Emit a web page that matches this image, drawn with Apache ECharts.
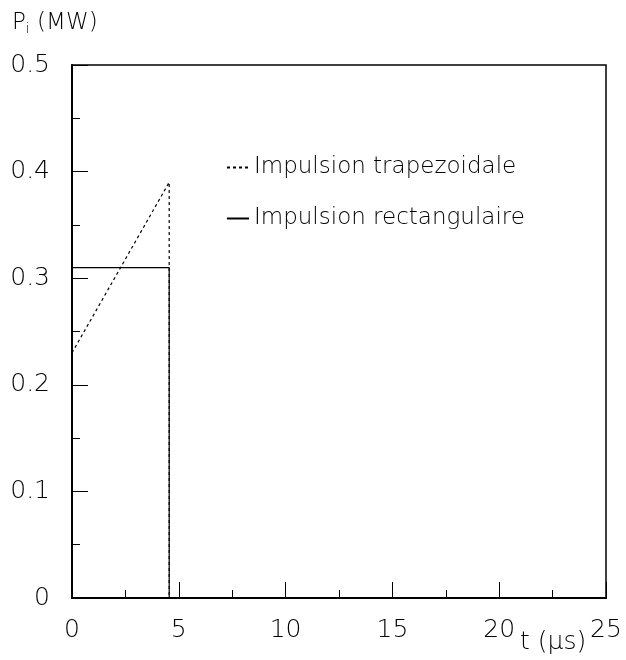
<!DOCTYPE html>
<html>
<head>
<meta charset="utf-8">
<script src="https://cdn.jsdelivr.net/npm/echarts@6/dist/echarts.min.js"></script>
<style>
  html, body { margin: 0; padding: 0; background: #fff; }
  #chart { width: 626px; height: 660px; }
</style>
</head>
<body>
<div id="chart"></div>
<script>
// puissance incidente vs temps
var seriesNames = ['Impulsion trapezoidale', 'Impulsion rectangulaire'];
var tTrap = [0, 4.55, 4.55];
var pTrap = [0.23, 0.39, 0];
var tRect = [0, 0, 4.55, 4.55];
var pRect = [0, 0.31, 0.31, 0];

var fontFam = '"DejaVu Sans", sans-serif';

function pairs(xs, ys) {
    var out = [];
    for (var i = 0; i < xs.length; i++) {
        out.push([xs[i], ys[i]]);
    }
    return out;
}

var chart = echarts.init(document.getElementById('chart'));

var option = {
    backgroundColor: '#fff',
    animation: false,
    grid: {
        left: 72,
        right: 20,
        top: 65,
        bottom: 62,
        show: true,
        borderColor: '#000',
        borderWidth: 1.5
    },
    legend: {
        orient: 'vertical',
        left: 221,
        top: 151,
        itemWidth: 22,
        itemHeight: 10,
        itemGap: 28,
        data: seriesNames,
        itemStyle: { color: 'transparent', borderWidth: 0 },
        textStyle: {
            fontFamily: fontFam,
            fontWeight: 200,
            fontSize: 23,
            color: '#000'
        }
    },
    xAxis: {
        type: 'value',
        min: 0,
        max: 25,
        interval: 5,
        axisLine: { lineStyle: { color: '#000', width: 2 } },
        axisTick: { inside: true, length: 16, lineStyle: { color: '#000', width: 1 } },
        minorTick: { show: true, splitNumber: 2, length: 8, lineStyle: { color: '#000', width: 1 } },
        splitLine: { show: false },
        axisLabel: {
            margin: 20,
            fontFamily: fontFam,
            fontWeight: 200,
            fontSize: 25,
            color: '#000'
        }
    },
    yAxis: {
        type: 'value',
        min: 0,
        max: 0.5,
        interval: 0.1,
        axisLine: { lineStyle: { color: '#000', width: 2 } },
        axisTick: { inside: true, length: 16, lineStyle: { color: '#000', width: 1 } },
        minorTick: { show: true, splitNumber: 2, length: 8, lineStyle: { color: '#000', width: 1 } },
        splitLine: { show: false },
        axisLabel: {
            margin: 22,
            fontFamily: fontFam,
            fontWeight: 200,
            fontSize: 25,
            color: '#000'
        }
    },
    graphic: [
        {
            type: 'text',
            left: 12,
            top: 12,
            style: {
                text: '{a|P}{s|i}{a| (MW)}',
                fill: '#000',
                rich: {
                    a: { fontFamily: fontFam, fontWeight: 200, fontSize: 23, fill: '#000' },
                    s: { fontFamily: fontFam, fontWeight: 200, fontSize: 14, fill: '#000', padding: [12, 0, 0, 0] }
                }
            }
        },
        {
            type: 'text',
            left: 520,
            top: 630,
            style: {
                text: 't (μs)',
                fill: '#000',
                font: '200 25px "DejaVu Sans", sans-serif'
            }
        }
    ],
    series: [
        {
            name: seriesNames[0],
            type: 'line',
            symbol: 'none',
            data: pairs(tTrap, pTrap),
            lineStyle: { color: '#000', width: 1.2, type: [3, 3] }
        },
        {
            name: seriesNames[1],
            type: 'line',
            symbol: 'none',
            data: pairs(tRect, pRect),
            lineStyle: { color: '#000', width: 1.2, type: 'solid' }
        }
    ]
};

chart.setOption(option);
</script>
</body>
</html>
